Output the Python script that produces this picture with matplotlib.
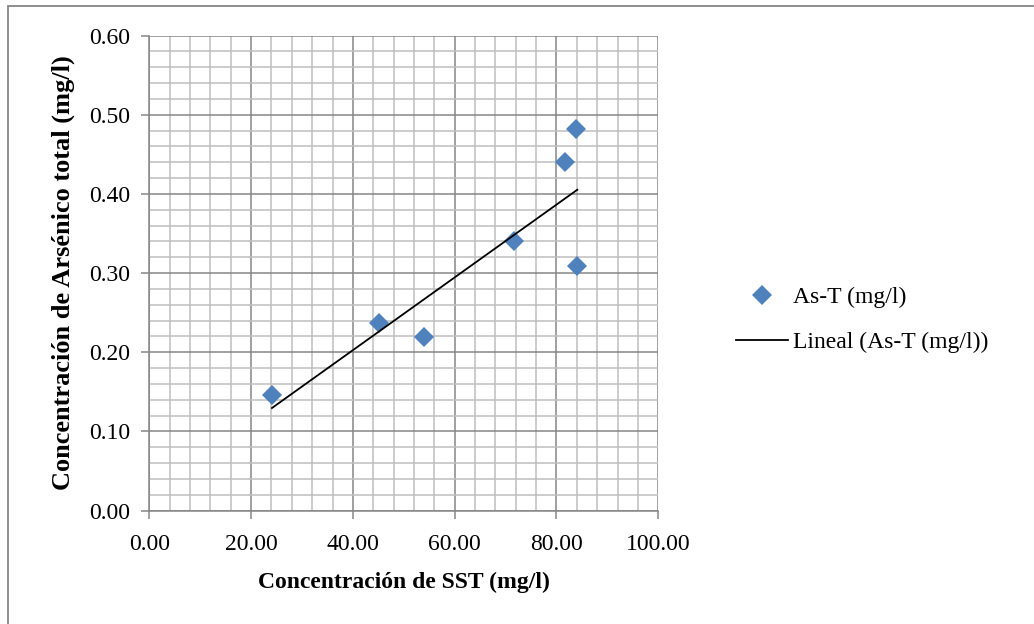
import numpy as np
import matplotlib
matplotlib.use("Agg")
import matplotlib.pyplot as plt
from matplotlib.ticker import MultipleLocator, FormatStrFormatter
from matplotlib.lines import Line2D
from matplotlib.patches import Rectangle

# Data
sst = [24.1, 45.2, 53.9, 71.7, 81.6, 83.8, 84.1]
arsenic = [0.146, 0.237, 0.219, 0.341, 0.440, 0.482, 0.309]

series_label = "As-T (mg/l)"
trend_label = "Lineal (As-T (mg/l))"
x_label = "Concentración de SST (mg/l)"
y_label = "Concentración de Arsénico total (mg/l)"

plt.rcParams['font.family'] = ['Liberation Serif', 'DejaVu Serif']

fig = plt.figure(figsize=(10.34, 6.24), dpi=100)
ax = fig.add_axes([0.1444, 0.1816, 0.4922, 0.7615])

major_c = '#868686'
minor_c = '#bfbfbf'

ax.set_xlim(0, 100)
ax.set_ylim(0, 0.6)
ax.xaxis.set_major_locator(MultipleLocator(20))
ax.xaxis.set_minor_locator(MultipleLocator(4))
ax.yaxis.set_major_locator(MultipleLocator(0.1))
ax.yaxis.set_minor_locator(MultipleLocator(0.02))
ax.xaxis.set_major_formatter(FormatStrFormatter('%.2f'))
ax.yaxis.set_major_formatter(FormatStrFormatter('%.2f'))

ax.grid(which='minor', color=minor_c, linewidth=1.1, zorder=0)
ax.grid(which='major', color=major_c, linewidth=1.1, zorder=0)
ax.set_axisbelow(True)

for s in ['top', 'right']:
    ax.spines[s].set_visible(False)
for s in ['left', 'bottom']:
    ax.spines[s].set_color(major_c)
    ax.spines[s].set_linewidth(1.1)

ax.tick_params(which='major', direction='out', length=6, width=1.1, color=major_c,
               labelsize=17)
ax.tick_params(which='minor', length=0)
ax.tick_params(axis='y', pad=8)
ax.tick_params(axis='x', pad=11)

# scatter
ax.plot(sst, arsenic, linestyle='none', marker='D', markersize=10.5,
        markerfacecolor='#4F81BD', markeredgewidth=0, zorder=3)

# linear trendline
coef = np.polyfit(sst, arsenic, 1)
xs = np.array([min(sst), max(sst)])
ax.plot(xs, np.polyval(coef, xs), color='black', linewidth=1.3, zorder=4)

ax.set_xlabel(x_label, fontsize=17, fontweight='bold', labelpad=12)
ax.set_ylabel(y_label, fontsize=19, fontweight='bold', labelpad=10)

handles = [Line2D([], [], linestyle='none', marker='D', markersize=10,
                  markerfacecolor='#4F81BD', markeredgewidth=0),
           Line2D([], [], color='black', linewidth=1.3)]
fig.legend(handles, [series_label, trend_label], loc='upper left',
           bbox_to_anchor=(0.7026, 0.556), frameon=False, fontsize=17,
           handlelength=2.2, handletextpad=0.2, labelspacing=1.0,
           borderaxespad=0, borderpad=0.4)

# outer chart border
fig.patches.append(Rectangle((7.5 / 1034, -0.1), 1.2, 1 - 5.5 / 624 + 0.1,
                             transform=fig.transFigure, fill=False,
                             edgecolor='#868686', linewidth=1.3))

fig.savefig('out.png', dpi=100)
